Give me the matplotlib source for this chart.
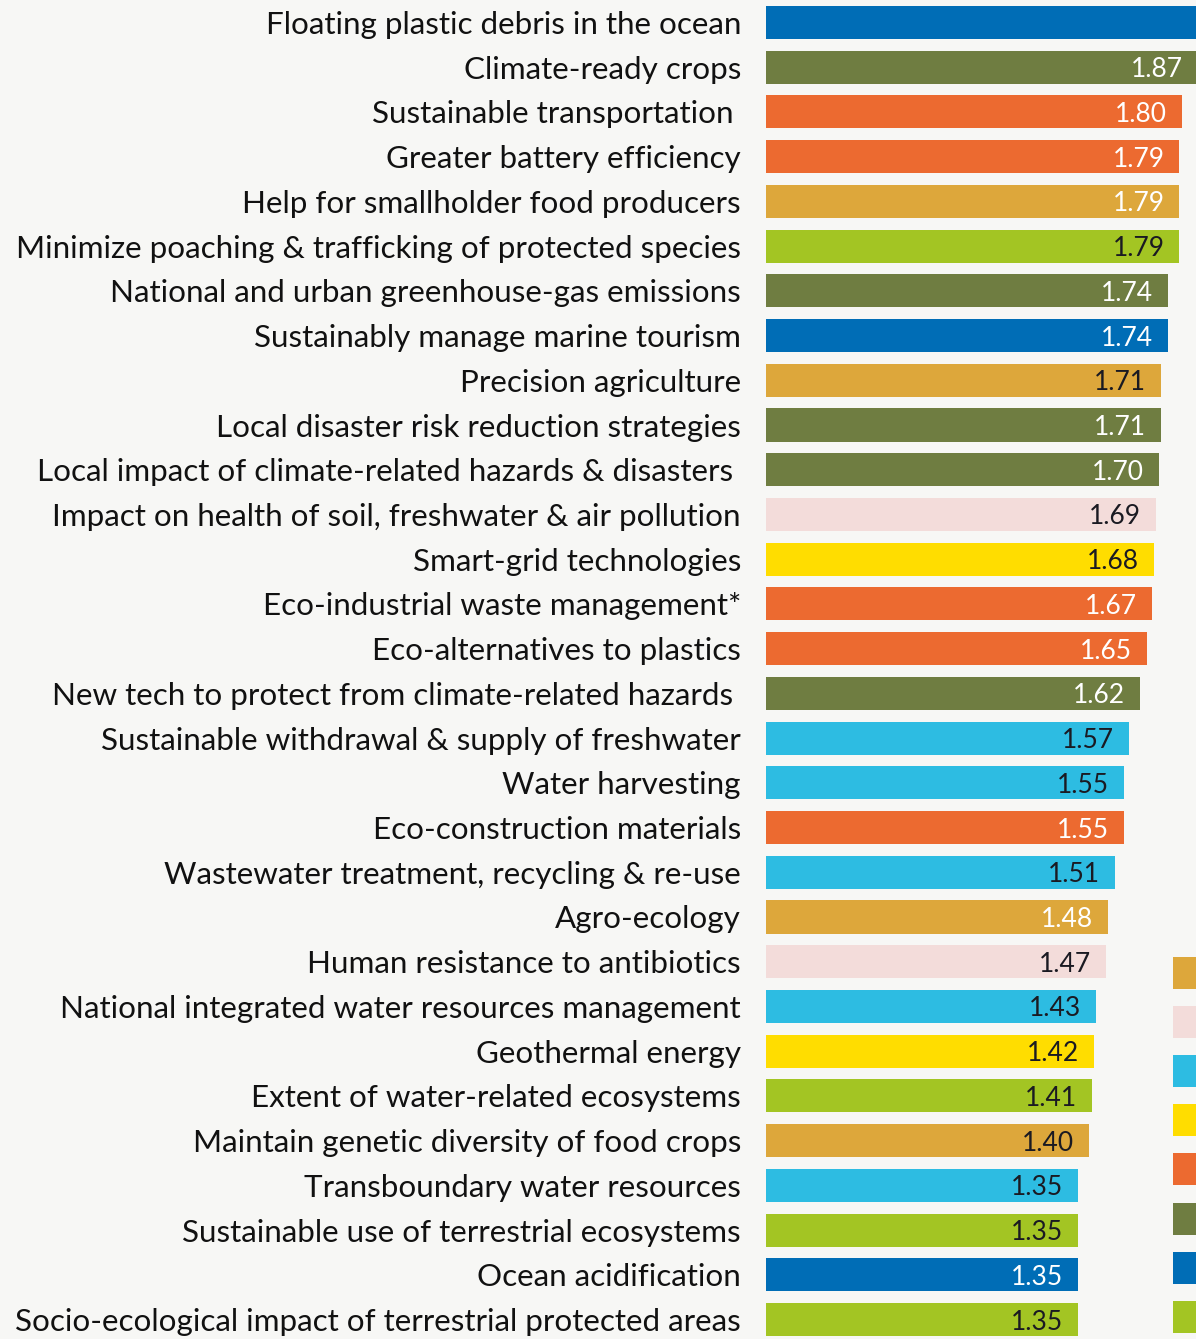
import numpy as np
import matplotlib
matplotlib.use("Agg")
import matplotlib.pyplot as plt
from matplotlib.patches import Rectangle

# colours used by the categories
BLUE = '#006DB6'
OLIVE = '#6F7D41'
ORANGE = '#EC6A30'
GOLD = '#DDA73B'
LGREEN = '#A3C523'
PINK = '#F3DCDA'
YELLOW = '#FFDD00'
CYAN = '#2DBCE2'
DARK = '#1A1A22'
WHITE = '#FFFFFF'

labels = [
    'Floating plastic debris in the ocean',
    'Climate-ready crops',
    'Sustainable transportation ',
    'Greater battery efficiency',
    'Help for smallholder food producers',
    'Minimize poaching & trafficking of protected species',
    'National and urban greenhouse-gas emissions',
    'Sustainably manage marine tourism',
    'Precision agriculture',
    'Local disaster risk reduction strategies',
    'Local impact of climate-related hazards & disasters ',
    'Impact on health of soil, freshwater & air pollution',
    'Smart-grid technologies',
    'Eco-industrial waste management*',
    'Eco-alternatives to plastics',
    'New tech to protect from climate-related hazards ',
    'Sustainable withdrawal & supply of freshwater',
    'Water harvesting',
    'Eco-construction materials',
    'Wastewater treatment, recycling & re-use',
    'Agro-ecology',
    'Human resistance to antibiotics',
    'National integrated water resources management',
    'Geothermal energy',
    'Extent of water-related ecosystems',
    'Maintain genetic diversity of food crops',
    'Transboundary water resources',
    'Sustainable use of terrestrial ecosystems',
    'Ocean acidification',
    'Socio-ecological impact of terrestrial protected areas',
]
# first bar runs off the picture, its value is not visible
values = [1.95, 1.87, 1.80, 1.79, 1.79, 1.79, 1.74, 1.74, 1.71, 1.71,
          1.70, 1.69, 1.68, 1.67, 1.65, 1.62, 1.57, 1.55, 1.55, 1.51,
          1.48, 1.47, 1.43, 1.42, 1.41, 1.40, 1.35, 1.35, 1.35, 1.35]
value_text = [''] + ['%.2f' % v for v in values[1:]]
colors = [BLUE, OLIVE, ORANGE, ORANGE, GOLD, LGREEN, OLIVE, BLUE, GOLD, OLIVE,
          OLIVE, PINK, YELLOW, ORANGE, ORANGE, OLIVE, CYAN, CYAN, ORANGE, CYAN,
          GOLD, PINK, CYAN, YELLOW, LGREEN, GOLD, CYAN, LGREEN, BLUE, LGREEN]
text_colors = [WHITE, WHITE, WHITE, WHITE, WHITE, DARK, WHITE, WHITE, DARK, WHITE,
               WHITE, DARK, DARK, WHITE, WHITE, WHITE, DARK, DARK, WHITE, DARK,
               WHITE, DARK, DARK, DARK, DARK, DARK, DARK, DARK, WHITE, DARK]
legend_colors = [GOLD, PINK, CYAN, YELLOW, ORANGE, OLIVE, BLUE, LGREEN]

plt.rcParams['font.family'] = ['Lato', 'DejaVu Sans']
BG = '#F7F7F5'
W, H = 1196, 1339

fig = plt.figure(figsize=(W / 100, H / 100), dpi=100, facecolor=BG)
ax = fig.add_axes([766 / W, 0, (W - 766) / W, 1])
ax.set_facecolor(BG)

y = np.arange(len(labels))
ax.barh(y, values, height=0.74, color=colors, linewidth=0)

for i, (v, t, c) in enumerate(zip(values, value_text, text_colors)):
    if t:
        ax.annotate(t, (v, i), xytext=(-15, 0), textcoords='offset pixels',
                    ha='right', va='center_baseline', color=c, fontsize=19,
                    annotation_clip=False)

ax.set_xlim(0, (W - 766) / 231.0)
ax.set_ylim(29 + (H - 1319.5) / 44.73, -22.5 / 44.73)
ax.set_yticks(y)
ax.set_yticklabels(labels, fontsize=22.6, color='#111111')
ax.tick_params(axis='y', length=0, pad=18)
ax.set_xticks([])
for s in ax.spines.values():
    s.set_visible(False)

# legend swatches, mostly cut off at the right edge
for k, c in enumerate(legend_colors):
    cy = 973 + k * 49.1
    fig.add_artist(Rectangle((1173 / W, 1 - (cy + 16) / H), 40 / W, 32 / H,
                             transform=fig.transFigure, color=c, linewidth=0))

fig.savefig('out.png', dpi=100, facecolor=BG)
